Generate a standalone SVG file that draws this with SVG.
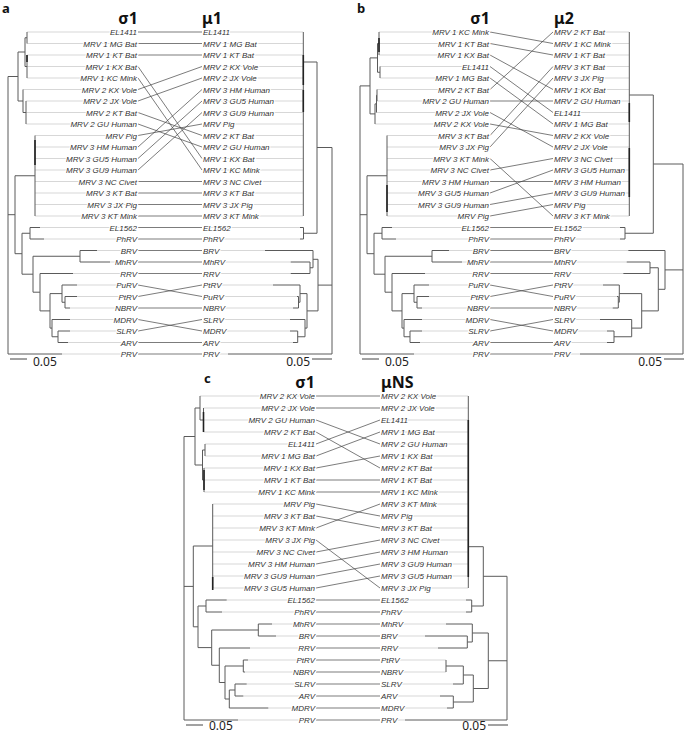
<svg xmlns="http://www.w3.org/2000/svg" width="685" height="733" viewBox="0 0 685 733">
<style>
.t{font-family:"Liberation Sans",Arial,sans-serif;font-size:8px;font-style:italic;fill:#333;paint-order:stroke;stroke:#fff;stroke-width:2.4px;stroke-linejoin:round}
.l{text-anchor:end}
.ld{stroke:#cdcdcd;stroke-width:0.8;fill:none}
.tr{stroke:#5a5a5a;stroke-width:1;fill:none}
.tk{stroke:#222;stroke-width:1.6;fill:none}
.cn{stroke:#444;stroke-width:0.7;fill:none}
.h{font-family:"Noto Sans","DejaVu Sans",sans-serif;font-weight:bold;font-size:16px;fill:#111}
.p{font-family:"Noto Sans","DejaVu Sans",sans-serif;font-weight:bold;font-size:13px;fill:#111}
.sc{font-family:"Noto Sans","DejaVu Sans",sans-serif;font-size:12px;fill:#222}
.sb{stroke:#444;stroke-width:1}
</style>
<rect width="685" height="733" fill="#fff"/>

<!-- ================= PANEL A ================= -->
<g id="panel-a-trees">
<path class="ld" d="M27 32H137M27 43.5H137M27 55H137M27 66.5H137M27 78H137M23 89.5H137M26 101H137M26 112.5H137M26 124H137M35 135.5H137M35 147H137M35 158.5H137M35 170H137M35 181.5H137M35 193H137M35 204.5H137M35 216H137M40 227.5H137M44 239H137M97 250.5H137M110 262H137M73 273.5H137M77 285H137M77 296.5H137M70 308H137M70 319.5H137M70 331H137M68 342.5H137M62 354H137"/>
<path class="ld" d="M203 32H303M203 43.5H303M203 55H303M203 66.5H303M203 78H303M203 89.5H303M203 101H303M203 112.5H303M203 124H303M203 135.5H303M203 147H303M203 158.5H303M203 170H303M203 181.5H303M203 193H303M203 204.5H303M203 216H303M203 227.5H300M203 239H300M203 250.5H265M203 262H290.7M203 273.5H290.7M203 285H273M203 296.5H297M203 308H293M203 319.5H290M203 331H290M203 342.5H293M203 354H228"/>
<path class="tr" d="M8 76.5V354M8 76.5H18M18 52V101M18 52H25M25 37.75V66.5M25 37.75H27M27 32V43.5M25 66.5H27M27 55V78M18 101H23M23 89.5V112.5M23 112.5H26M26 101V124M8 214.7H15M15 175.75V253.7M15 175.75H35M35 135.5V216M15 253.7H22M22 233.25V274.2M22 233.25H30M30 227.5V239M30 227.5H40M30 239H44M22 274.2H33M33 256.25V292.2M33 256.25H80M80 250.5V262M80 250.5H97M80 262H110M33 292.2H40M40 273.5V310.9M40 273.5H73M40 310.9H50M50 293.6V328.1M50 293.6H62M62 285V302.25M62 285H77M62 302.25H65M65 296.5V308M65 296.5H77M65 308H70M50 328.1H52M52 319.5V336.75M52 319.5H70M52 336.75H58M58 331V342.5M58 331H70M58 342.5H68M8 354H62"/>
<path class="tk" d="M35 140V165M27 55V62"/>
<path class="tr" d="M332 147.5V354M317 147.5H332M317 62V233.25M303.3 62H317M303.3 32V216M303.5 233.25H317M303.5 227.5V239M300 227.5H303.5M300 239H303.5M318 285.1H332M318 259.3V310.9M313 259.3H318M313 250.5V267.75M265 250.5H313M310 267.75H313M310 262V273.5M290.7 262H310M290.7 273.5H310M307 310.9H318M307 293.6V328.1M300 293.6H307M300 285V302.25M273 285H300M298.5 302.25H300M298.5 296.5V308M297 296.5H298.5M293 308H298.5M305 328.1H307M305 319.5V336.75M290 319.5H305M297.7 336.75H305M297.7 331V342.5M290 331H297.7M293 342.5H297.7M228 354H332"/>
<path class="tk" d="M303.3 55V85M303.3 90V112"/>
</g>

<!-- ================= PANEL B ================= -->
<g id="panel-b-trees">
<path class="ld" d="M379 32H489M379 43.5H489M379 55H489M380 66.5H489M380 78H489M377 89.5H489M377 101H489M376.5 112.5H489M375 124H489M387 135.5H489M387 147H489M387 158.5H489M387 170H489M387 181.5H489M387 193H489M387 204.5H489M387 216H489M392 227.5H489M396 239H489M449 250.5H489M462 262H489M425 273.5H489M429 285H489M429 296.5H489M422 308H489M422 319.5H489M422 331H489M420 342.5H489M414 354H489"/>
<path class="ld" d="M554 32H629M554 43.5H629M554 55H629M554 66.5H629M554 78H629M554 89.5H629M554 101H629M554 112.5H629M554 124H629M554 135.5H629M554 147H629M554 158.5H629M554 170H629M554 181.5H629M554 193H629M554 204.5H629M554 216H629M554 227.5H620M554 239H620M554 250.5H628.3M554 262H626.7M554 273.5H623.3M554 285H603M554 296.5H617M554 308H612.7M554 319.5H600M554 331H607M554 342.5H607M554 354H580"/>
<path class="tr" d="M360 85.9V354M360 85.9H370M370 57.9V113.9M370 57.9H377.5M377.5 43.5V72.25M377.5 43.5H379M379 32V55M377.5 72.25H380M380 66.5V78M370 113.9H375M375 103.9V124M375 103.9H376.5M376.5 95.25V112.5M376.5 95.25H377M377 89.5V101M360 214.7H367M367 175.75V253.7M367 175.75H387M387 135.5V216M367 253.7H374M374 233.25V274.2M374 233.25H382M382 227.5V239M382 227.5H392M382 239H396M374 274.2H385M385 256.25V292.2M385 256.25H432M432 250.5V262M432 250.5H449M432 262H462M385 292.2H392M392 273.5V310.9M392 273.5H425M392 310.9H402M402 293.6V328.1M402 293.6H414M414 285V302.25M414 285H429M414 302.25H417M417 296.5V308M417 296.5H429M417 308H422M402 328.1H404M404 319.5V336.75M404 319.5H422M404 336.75H410M410 331V342.5M410 331H422M410 342.5H420M360 354H414"/>
<path class="tk" d="M379 38V52M387 185V212"/>
<path class="tr" d="M683 164V354M653.3 164H683M653.3 95V233.25M629.3 95H653.3M629.3 32V216M625 233.25H653.3M625 227.5V239M620 227.5H625M620 239H625M665 269.9H683M665 250.5V289.3M628.3 250.5H665M658.3 289.3H665M658.3 267.75V310.9M650 267.75H658.3M650 262V273.5M626.7 262H650M623.3 273.5H650M641.7 310.9H658.3M641.7 293.6V328.1M619.3 293.6H641.7M619.3 285V302.25M603 285H619.3M618.3 302.25H619.3M618.3 296.5V308M617 296.5H618.3M612.7 308H618.3M631.7 328.1H641.7M631.7 319.5V336.75M600 319.5H631.7M614 336.75H631.7M614 331V342.5M607 331H614M607 342.5H614M580 354H683"/>
<path class="tk" d="M629.3 103V122M629.3 148V197"/>
</g>

<!-- ================= PANEL C ================= -->
<g id="panel-c-trees">
<path class="ld" d="M200 396H315M203.5 408H315M203.5 420H315M203.5 432H315M205 444H315M205 456H315M204 468H315M204 480H315M204 492H315M212.7 504H315M212.7 516H315M212.7 528H315M212.7 540H315M212.7 552H315M212.7 564H315M212.7 576H315M212.7 588H315M226.7 600H315M222 612H315M272 624H315M276 636H315M250 648H315M248 660H315M245 672H315M246.7 684H315M243.3 696H315M268.3 708H315M238 720H315"/>
<path class="ld" d="M381 396H468M381 408H468M381 420H468M381 432H468M381 444H468M381 456H468M381 468H468M381 480H468M381 492H468M381 504H468M381 516H468M381 528H468M381 540H468M381 552H468M381 564H468M381 576H468M381 588H468M381 600H466M381 612H466M381 624H446M381 636H425M381 648H438M381 660H446M381 672H446M381 684H453M381 696H440M381 708H447M381 720H405"/>
<path class="tr" d="M184 436.5V720M184 436.5H195M195 408V465M195 408H200M200 396V420M200 420H203.5M203.5 408V432M195 465H202.5M202.5 450V480M202.5 450H205M205 444V456M202.5 480H204M204 468V492M184 586.4H193.3M193.3 546V626.8M193.3 546H212.7M212.7 504V588M193.3 626.8H198M198 606V647.6M198 606H206M206 600V612M206 600H226.7M206 612H222M198 647.6H211.7M211.7 630V665.25M211.7 630H258.3M258.3 624V636M258.3 624H272M258.3 636H276M211.7 665.25H219.3M219.3 648V682.5M219.3 648H250M219.3 682.5H225M225 666V699M225 666H243.3M243.3 660V672M243.3 660H248M243.3 672H245M225 699H229.3M229.3 690V708M229.3 708H268.3M229.3 690H235M235 684V696M235 684H246.7M235 696H243.3M184 720H238"/>
<path class="tk" d="M203.5 412V432M204 470V490M212.7 577V590"/>
<path class="tr" d="M507 576.3V720M483.3 576.3H507M483.3 546.7V606M468.3 546.7H483.3M468.3 396V588M471.7 606H483.3M471.7 600V612M466 600H471.7M466 612H471.7M488.3 660.75H507M488.3 633V688.5M472.3 633H488.3M472.3 624V642M446 624H472.3M467.3 642H472.3M467.3 636V648M425 636H467.3M438 648H467.3M473.3 688.5H488.3M473.3 675V702M463.3 675H473.3M463.3 666V684M453 684H463.3M446 666H463.3M446 660V672M453.3 702H473.3M453.3 696V708M440 696H453.3M447 708H453.3M405 720H507"/>
<path class="tk" d="M468.3 420V577"/>
</g>

<!-- ================= CONNECTORS ================= -->
<g id="connectors" class="cn">
<path d="M138 32L202 32M138 43.5L202 43.5M138 55L202 55M138 66.5L202 158.5M138 78L202 170M138 89.5L202 66.5M138 101L202 78M138 112.5L202 135.5M138 124L202 147M138 135.5L202 124M138 147L202 89.5M138 158.5L202 101M138 170L202 112.5M138 181.5L202 181.5M138 193L202 193M138 204.5L202 204.5M138 216L202 216M138 227.5L202 227.5M138 239L202 239M138 250.5L202 250.5M138 262L202 262M138 273.5L202 273.5M138 285L202 296.5M138 296.5L202 285M138 308L202 308M138 319.5L202 331M138 331L202 319.5M138 342.5L202 342.5M138 354L202 354"/>
<path d="M490 32L553 43.5M490 43.5L553 55M490 55L553 89.5M490 66.5L553 112.5M490 78L553 124M490 89.5L553 32M490 101L553 101M490 112.5L553 147M490 124L553 135.5M490 135.5L553 66.5M490 147L553 78M490 158.5L553 216M490 170L553 158.5M490 181.5L553 181.5M490 193L553 170M490 204.5L553 193M490 216L553 204.5M490 227.5L553 227.5M490 239L553 239M490 250.5L553 250.5M490 262L553 262M490 273.5L553 273.5M490 285L553 296.5M490 296.5L553 285M490 308L553 308M490 319.5L553 331M490 331L553 319.5M490 342.5L553 342.5M490 354L553 354"/>
<path d="M316 396L380 396M316 408L380 408M316 420L380 444M316 432L380 468M316 444L380 420M316 456L380 432M316 468L380 456M316 480L380 480M316 492L380 492M316 504L380 516M316 516L380 528M316 528L380 504M316 540L380 588M316 552L380 540M316 564L380 552M316 576L380 564M316 588L380 576M316 600L380 600M316 612L380 612M316 624L380 624M316 636L380 636M316 648L380 648M316 660L380 660M316 672L380 672M316 684L380 684M316 696L380 696M316 708L380 708M316 720L380 720"/>
</g>

<!-- ================= HEADERS ================= -->
<g id="headers">
<text class="p" x="2" y="13">a</text>
<text class="p" x="357" y="13">b</text>
<text class="p" x="204" y="383">c</text>
<text class="h" x="138" y="24" text-anchor="end">σ1</text>
<text class="h" x="202" y="24">μ1</text>
<text class="h" x="490" y="24" text-anchor="end">σ1</text>
<text class="h" x="554" y="24">μ2</text>
<text class="h" x="315" y="388" text-anchor="end">σ1</text>
<text class="h" x="381" y="388">μNS</text>
</g>

<!-- ================= SCALE BARS ================= -->
<g id="scales">
<path class="sb" d="M10 359H27M312 359H332M362 359H379M664 359H684M186 725H203M488 725H508"/>
<text class="sc" x="33" y="366">0.05</text>
<text class="sc" x="310" y="366" text-anchor="end">0.05</text>
<text class="sc" x="385" y="366">0.05</text>
<text class="sc" x="662" y="366" text-anchor="end">0.05</text>
<text class="sc" x="209" y="730">0.05</text>
<text class="sc" x="486" y="730" text-anchor="end">0.05</text>
</g>

<!-- ================= PANEL A LABELS ================= -->
<g id="a-left">
<g id="aL00"><text class="t l" x="137" y="35">EL1411</text></g>
<g id="aL01"><text class="t l" x="137" y="46.5">MRV 1 MG Bat</text></g>
<g id="aL02"><text class="t l" x="137" y="58">MRV 1 KT Bat</text></g>
<g id="aL03"><text class="t l" x="137" y="69.5">MRV 1 KX Bat</text></g>
<g id="aL04"><text class="t l" x="137" y="81">MRV 1 KC Mink</text></g>
<g id="aL05"><text class="t l" x="137" y="92.5">MRV 2 KX Vole</text></g>
<g id="aL06"><text class="t l" x="137" y="104">MRV 2 JX Vole</text></g>
<g id="aL07"><text class="t l" x="137" y="115.5">MRV 2 KT Bat</text></g>
<g id="aL08"><text class="t l" x="137" y="127">MRV 2 GU Human</text></g>
<g id="aL09"><text class="t l" x="137" y="138.5">MRV Pig</text></g>
<g id="aL10"><text class="t l" x="137" y="150">MRV 3 HM Human</text></g>
<g id="aL11"><text class="t l" x="137" y="161.5">MRV 3 GU5 Human</text></g>
<g id="aL12"><text class="t l" x="137" y="173">MRV 3 GU9 Human</text></g>
<g id="aL13"><text class="t l" x="137" y="184.5">MRV 3 NC Civet</text></g>
<g id="aL14"><text class="t l" x="137" y="196">MRV 3 KT Bat</text></g>
<g id="aL15"><text class="t l" x="137" y="207.5">MRV 3 JX Pig</text></g>
<g id="aL16"><text class="t l" x="137" y="219">MRV 3 KT Mink</text></g>
<g id="aL17"><text class="t l" x="137" y="230.5">EL1562</text></g>
<g id="aL18"><text class="t l" x="137" y="242">PhRV</text></g>
<g id="aL19"><text class="t l" x="137" y="253.5">BRV</text></g>
<g id="aL20"><text class="t l" x="137" y="265">MhRV</text></g>
<g id="aL21"><text class="t l" x="137" y="276.5">RRV</text></g>
<g id="aL22"><text class="t l" x="137" y="288">PuRV</text></g>
<g id="aL23"><text class="t l" x="137" y="299.5">PtRV</text></g>
<g id="aL24"><text class="t l" x="137" y="311">NBRV</text></g>
<g id="aL25"><text class="t l" x="137" y="322.5">MDRV</text></g>
<g id="aL26"><text class="t l" x="137" y="334">SLRV</text></g>
<g id="aL27"><text class="t l" x="137" y="345.5">ARV</text></g>
<g id="aL28"><text class="t l" x="137" y="357">PRV</text></g>
</g>
<g id="a-right">
<g id="aR00"><text class="t" x="203" y="35">EL1411</text></g>
<g id="aR01"><text class="t" x="203" y="46.5">MRV 1 MG Bat</text></g>
<g id="aR02"><text class="t" x="203" y="58">MRV 1 KT Bat</text></g>
<g id="aR03"><text class="t" x="203" y="69.5">MRV 2 KX Vole</text></g>
<g id="aR04"><text class="t" x="203" y="81">MRV 2 JX Vole</text></g>
<g id="aR05"><text class="t" x="203" y="92.5">MRV 3 HM Human</text></g>
<g id="aR06"><text class="t" x="203" y="104">MRV 3 GU5 Human</text></g>
<g id="aR07"><text class="t" x="203" y="115.5">MRV 3 GU9 Human</text></g>
<g id="aR08"><text class="t" x="203" y="127">MRV Pig</text></g>
<g id="aR09"><text class="t" x="203" y="138.5">MRV 2 KT Bat</text></g>
<g id="aR10"><text class="t" x="203" y="150">MRV 2 GU Human</text></g>
<g id="aR11"><text class="t" x="203" y="161.5">MRV 1 KX Bat</text></g>
<g id="aR12"><text class="t" x="203" y="173">MRV 1 KC Mink</text></g>
<g id="aR13"><text class="t" x="203" y="184.5">MRV 3 NC Civet</text></g>
<g id="aR14"><text class="t" x="203" y="196">MRV 3 KT Bat</text></g>
<g id="aR15"><text class="t" x="203" y="207.5">MRV 3 JX Pig</text></g>
<g id="aR16"><text class="t" x="203" y="219">MRV 3 KT Mink</text></g>
<g id="aR17"><text class="t" x="203" y="230.5">EL1562</text></g>
<g id="aR18"><text class="t" x="203" y="242">PhRV</text></g>
<g id="aR19"><text class="t" x="203" y="253.5">BRV</text></g>
<g id="aR20"><text class="t" x="203" y="265">MhRV</text></g>
<g id="aR21"><text class="t" x="203" y="276.5">RRV</text></g>
<g id="aR22"><text class="t" x="203" y="288">PtRV</text></g>
<g id="aR23"><text class="t" x="203" y="299.5">PuRV</text></g>
<g id="aR24"><text class="t" x="203" y="311">NBRV</text></g>
<g id="aR25"><text class="t" x="203" y="322.5">SLRV</text></g>
<g id="aR26"><text class="t" x="203" y="334">MDRV</text></g>
<g id="aR27"><text class="t" x="203" y="345.5">ARV</text></g>
<g id="aR28"><text class="t" x="203" y="357">PRV</text></g>
</g>

<!-- ================= PANEL B LABELS ================= -->
<g id="b-left">
<g id="bL00"><text class="t l" x="489" y="35">MRV 1 KC Mink</text></g>
<g id="bL01"><text class="t l" x="489" y="46.5">MRV 1 KT Bat</text></g>
<g id="bL02"><text class="t l" x="489" y="58">MRV 1 KX Bat</text></g>
<g id="bL03"><text class="t l" x="489" y="69.5">EL1411</text></g>
<g id="bL04"><text class="t l" x="489" y="81">MRV 1 MG Bat</text></g>
<g id="bL05"><text class="t l" x="489" y="92.5">MRV 2 KT Bat</text></g>
<g id="bL06"><text class="t l" x="489" y="104">MRV 2 GU Human</text></g>
<g id="bL07"><text class="t l" x="489" y="115.5">MRV 2 JX Vole</text></g>
<g id="bL08"><text class="t l" x="489" y="127">MRV 2 KX Vole</text></g>
<g id="bL09"><text class="t l" x="489" y="138.5">MRV 3 KT Bat</text></g>
<g id="bL10"><text class="t l" x="489" y="150">MRV 3 JX Pig</text></g>
<g id="bL11"><text class="t l" x="489" y="161.5">MRV 3 KT Mink</text></g>
<g id="bL12"><text class="t l" x="489" y="173">MRV 3 NC Civet</text></g>
<g id="bL13"><text class="t l" x="489" y="184.5">MRV 3 HM Human</text></g>
<g id="bL14"><text class="t l" x="489" y="196">MRV 3 GU5 Human</text></g>
<g id="bL15"><text class="t l" x="489" y="207.5">MRV 3 GU9 Human</text></g>
<g id="bL16"><text class="t l" x="489" y="219">MRV Pig</text></g>
<g id="bL17"><text class="t l" x="489" y="230.5">EL1562</text></g>
<g id="bL18"><text class="t l" x="489" y="242">PhRV</text></g>
<g id="bL19"><text class="t l" x="489" y="253.5">BRV</text></g>
<g id="bL20"><text class="t l" x="489" y="265">MhRV</text></g>
<g id="bL21"><text class="t l" x="489" y="276.5">RRV</text></g>
<g id="bL22"><text class="t l" x="489" y="288">PuRV</text></g>
<g id="bL23"><text class="t l" x="489" y="299.5">PtRV</text></g>
<g id="bL24"><text class="t l" x="489" y="311">NBRV</text></g>
<g id="bL25"><text class="t l" x="489" y="322.5">MDRV</text></g>
<g id="bL26"><text class="t l" x="489" y="334">SLRV</text></g>
<g id="bL27"><text class="t l" x="489" y="345.5">ARV</text></g>
<g id="bL28"><text class="t l" x="489" y="357">PRV</text></g>
</g>
<g id="b-right">
<g id="bR00"><text class="t" x="554" y="35">MRV 2 KT Bat</text></g>
<g id="bR01"><text class="t" x="554" y="46.5">MRV 1 KC Mink</text></g>
<g id="bR02"><text class="t" x="554" y="58">MRV 1 KT Bat</text></g>
<g id="bR03"><text class="t" x="554" y="69.5">MRV 3 KT Bat</text></g>
<g id="bR04"><text class="t" x="554" y="81">MRV 3 JX Pig</text></g>
<g id="bR05"><text class="t" x="554" y="92.5">MRV 1 KX Bat</text></g>
<g id="bR06"><text class="t" x="554" y="104">MRV 2 GU Human</text></g>
<g id="bR07"><text class="t" x="554" y="115.5">EL1411</text></g>
<g id="bR08"><text class="t" x="554" y="127">MRV 1 MG Bat</text></g>
<g id="bR09"><text class="t" x="554" y="138.5">MRV 2 KX Vole</text></g>
<g id="bR10"><text class="t" x="554" y="150">MRV 2 JX Vole</text></g>
<g id="bR11"><text class="t" x="554" y="161.5">MRV 3 NC Civet</text></g>
<g id="bR12"><text class="t" x="554" y="173">MRV 3 GU5 Human</text></g>
<g id="bR13"><text class="t" x="554" y="184.5">MRV 3 HM Human</text></g>
<g id="bR14"><text class="t" x="554" y="196">MRV 3 GU9 Human</text></g>
<g id="bR15"><text class="t" x="554" y="207.5">MRV Pig</text></g>
<g id="bR16"><text class="t" x="554" y="219">MRV 3 KT Mink</text></g>
<g id="bR17"><text class="t" x="554" y="230.5">EL1562</text></g>
<g id="bR18"><text class="t" x="554" y="242">PhRV</text></g>
<g id="bR19"><text class="t" x="554" y="253.5">BRV</text></g>
<g id="bR20"><text class="t" x="554" y="265">MhRV</text></g>
<g id="bR21"><text class="t" x="554" y="276.5">RRV</text></g>
<g id="bR22"><text class="t" x="554" y="288">PtRV</text></g>
<g id="bR23"><text class="t" x="554" y="299.5">PuRV</text></g>
<g id="bR24"><text class="t" x="554" y="311">NBRV</text></g>
<g id="bR25"><text class="t" x="554" y="322.5">SLRV</text></g>
<g id="bR26"><text class="t" x="554" y="334">MDRV</text></g>
<g id="bR27"><text class="t" x="554" y="345.5">ARV</text></g>
<g id="bR28"><text class="t" x="554" y="357">PRV</text></g>
</g>

<!-- ================= PANEL C LABELS ================= -->
<g id="c-left">
<g id="cL00"><text class="t l" x="315" y="399">MRV 2 KX Vole</text></g>
<g id="cL01"><text class="t l" x="315" y="411">MRV 2 JX Vole</text></g>
<g id="cL02"><text class="t l" x="315" y="423">MRV 2 GU Human</text></g>
<g id="cL03"><text class="t l" x="315" y="435">MRV 2 KT Bat</text></g>
<g id="cL04"><text class="t l" x="315" y="447">EL1411</text></g>
<g id="cL05"><text class="t l" x="315" y="459">MRV 1 MG Bat</text></g>
<g id="cL06"><text class="t l" x="315" y="471">MRV 1 KX Bat</text></g>
<g id="cL07"><text class="t l" x="315" y="483">MRV 1 KT Bat</text></g>
<g id="cL08"><text class="t l" x="315" y="495">MRV 1 KC Mink</text></g>
<g id="cL09"><text class="t l" x="315" y="507">MRV Pig</text></g>
<g id="cL10"><text class="t l" x="315" y="519">MRV 3 KT Bat</text></g>
<g id="cL11"><text class="t l" x="315" y="531">MRV 3 KT Mink</text></g>
<g id="cL12"><text class="t l" x="315" y="543">MRV 3 JX Pig</text></g>
<g id="cL13"><text class="t l" x="315" y="555">MRV 3 NC Civet</text></g>
<g id="cL14"><text class="t l" x="315" y="567">MRV 3 HM Human</text></g>
<g id="cL15"><text class="t l" x="315" y="579">MRV 3 GU9 Human</text></g>
<g id="cL16"><text class="t l" x="315" y="591">MRV 3 GU5 Human</text></g>
<g id="cL17"><text class="t l" x="315" y="603">EL1562</text></g>
<g id="cL18"><text class="t l" x="315" y="615">PhRV</text></g>
<g id="cL19"><text class="t l" x="315" y="627">MhRV</text></g>
<g id="cL20"><text class="t l" x="315" y="639">BRV</text></g>
<g id="cL21"><text class="t l" x="315" y="651">RRV</text></g>
<g id="cL22"><text class="t l" x="315" y="663">PtRV</text></g>
<g id="cL23"><text class="t l" x="315" y="675">NBRV</text></g>
<g id="cL24"><text class="t l" x="315" y="687">SLRV</text></g>
<g id="cL25"><text class="t l" x="315" y="699">ARV</text></g>
<g id="cL26"><text class="t l" x="315" y="711">MDRV</text></g>
<g id="cL27"><text class="t l" x="315" y="723">PRV</text></g>
</g>
<g id="c-right">
<g id="cR00"><text class="t" x="381" y="399">MRV 2 KX Vole</text></g>
<g id="cR01"><text class="t" x="381" y="411">MRV 2 JX Vole</text></g>
<g id="cR02"><text class="t" x="381" y="423">EL1411</text></g>
<g id="cR03"><text class="t" x="381" y="435">MRV 1 MG Bat</text></g>
<g id="cR04"><text class="t" x="381" y="447">MRV 2 GU Human</text></g>
<g id="cR05"><text class="t" x="381" y="459">MRV 1 KX Bat</text></g>
<g id="cR06"><text class="t" x="381" y="471">MRV 2 KT Bat</text></g>
<g id="cR07"><text class="t" x="381" y="483">MRV 1 KT Bat</text></g>
<g id="cR08"><text class="t" x="381" y="495">MRV 1 KC Mink</text></g>
<g id="cR09"><text class="t" x="381" y="507">MRV 3 KT Mink</text></g>
<g id="cR10"><text class="t" x="381" y="519">MRV Pig</text></g>
<g id="cR11"><text class="t" x="381" y="531">MRV 3 KT Bat</text></g>
<g id="cR12"><text class="t" x="381" y="543">MRV 3 NC Civet</text></g>
<g id="cR13"><text class="t" x="381" y="555">MRV 3 HM Human</text></g>
<g id="cR14"><text class="t" x="381" y="567">MRV 3 GU9 Human</text></g>
<g id="cR15"><text class="t" x="381" y="579">MRV 3 GU5 Human</text></g>
<g id="cR16"><text class="t" x="381" y="591">MRV 3 JX Pig</text></g>
<g id="cR17"><text class="t" x="381" y="603">EL1562</text></g>
<g id="cR18"><text class="t" x="381" y="615">PhRV</text></g>
<g id="cR19"><text class="t" x="381" y="627">MhRV</text></g>
<g id="cR20"><text class="t" x="381" y="639">BRV</text></g>
<g id="cR21"><text class="t" x="381" y="651">RRV</text></g>
<g id="cR22"><text class="t" x="381" y="663">PtRV</text></g>
<g id="cR23"><text class="t" x="381" y="675">NBRV</text></g>
<g id="cR24"><text class="t" x="381" y="687">SLRV</text></g>
<g id="cR25"><text class="t" x="381" y="699">ARV</text></g>
<g id="cR26"><text class="t" x="381" y="711">MDRV</text></g>
<g id="cR27"><text class="t" x="381" y="723">PRV</text></g>
</g>
</svg>
